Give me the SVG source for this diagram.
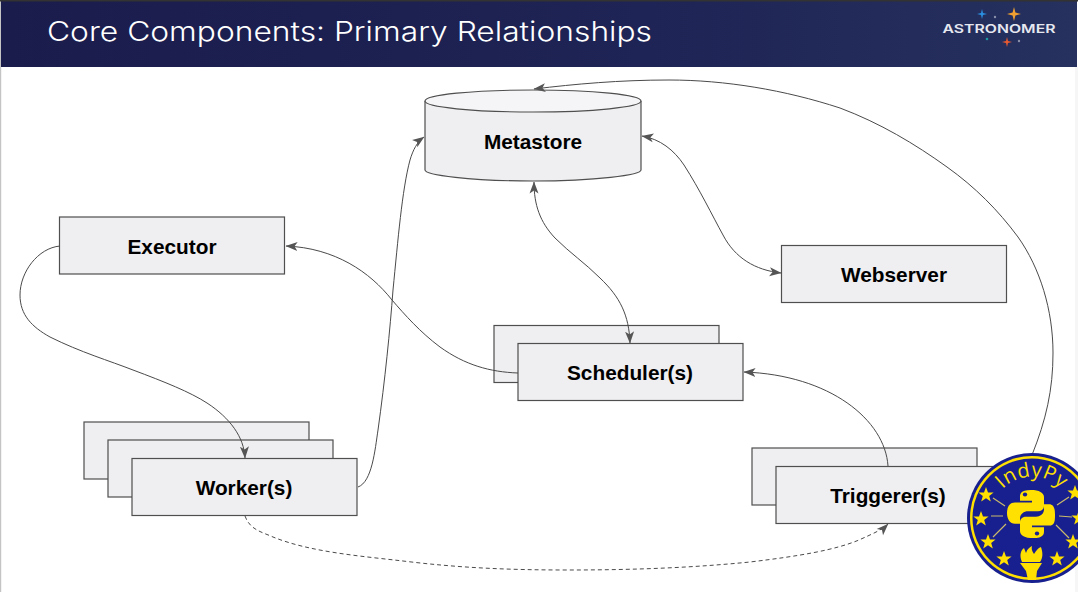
<svg xmlns="http://www.w3.org/2000/svg" width="1078" height="592" viewBox="0 0 1078 592">
<style>
.box{fill:#efeef0;stroke:#4f4f4f;stroke-width:1.2}
.lbl{font-family:"Liberation Sans",Arial,sans-serif;font-weight:700;font-size:20.800px;fill:#000;text-anchor:middle}
.c{fill:none;stroke:#4a4a4a;stroke-width:1}
.star{fill:#ffe000}
.spoke{stroke:#c9b96a;stroke-width:1.2}
</style>
<defs>
<linearGradient id="hdr" x1="0" x2="1" y1="0" y2="0"><stop offset="0" stop-color="#1a1c4c"/><stop offset=".6" stop-color="#1e2455"/><stop offset="1" stop-color="#26315f"/></linearGradient>
<marker id="a" viewBox="0 0 12 12" refX="11.5" refY="6" markerWidth="12" markerHeight="12" orient="auto-start-reverse" markerUnits="userSpaceOnUse"><path d="M0 1.500L12 6L0 10.500L3 6Z" fill="#555"/></marker>
<path id="st" class="star" d="M0-8L2-2.600L7.600-2.500L3.200,.9L4.800,6.500L0,3.300L-4.800,6.500L-3.200,.9L-7.600-2.500L-2-2.600Z"/>
<path id="spark" d="M0-5L1,-1L5,0L1,1L0,5L-1,1L-5,0L-1,-1Z"/>
</defs>
<rect width="1078" height="592" fill="#fff"/>
<rect width="1.200" height="592" fill="#c4c4c4"/>
<rect x="1075" y="67" width="3" height="525" fill="#f6f6f6"/>
<g id="header">
<rect x="1" y="1" width="1076" height="66" fill="url(#hdr)"/>
<rect width="1078" height="1.500" fill="#333"/>
<text x="47" y="41" font-family="Inter,'Open Sans',sans-serif" font-size="27.500" font-weight="300" fill="#fff" textLength="605" lengthAdjust="spacingAndGlyphs">Core Components: Primary Relationships</text>
<text x="999" y="33" font-family="Inter,'Liberation Sans',sans-serif" font-size="12" font-weight="600" fill="#e6e8f0" text-anchor="middle" textLength="113" lengthAdjust="spacingAndGlyphs">ASTRONOMER</text>
<use href="#spark" x="982" y="14" fill="#2a8fe0"/>
<use href="#spark" transform="translate(1014 14) scale(1.400)" fill="#f0a030"/>
<circle cx="995" cy="17" r="1.200" fill="#8a90a8"/>
<circle cx="987" cy="39" r="1.300" fill="#1a9aa0"/>
<use href="#spark" x="1007" y="42" fill="#e85a30"/>
<circle cx="1019" cy="41" r="1.200" fill="#8a90a8"/>
</g>
<g id="metastore">
<path class="box" d="M425 101V170C425 175 470 181 533 181C596 181 641 175 641 170V101"/>
<ellipse cx="533" cy="101" rx="108" ry="11" fill="#f5f4f6" stroke="#4f4f4f" stroke-width="1.200"/>
<text class="lbl" x="533" y="149">Metastore</text>
</g>
<g id="executor"><rect class="box" x="59.500" y="217" width="225" height="57"/><text class="lbl" x="172" y="253.500">Executor</text></g>
<g id="webserver"><rect class="box" x="781.500" y="245.500" width="225" height="57"/><text class="lbl" x="894" y="281.500">Webserver</text></g>
<g id="scheduler">
<rect class="box" x="494" y="325.500" width="225" height="57"/>
<rect class="box" x="518" y="343.500" width="225" height="57"/>
<text class="lbl" x="630" y="380">Scheduler(s)</text>
</g>
<g id="worker">
<rect class="box" x="84" y="422" width="225" height="57"/>
<rect class="box" x="108" y="440" width="225" height="57"/>
<rect class="box" x="132" y="458.500" width="225" height="57"/>
<text class="lbl" x="244" y="495">Worker(s)</text>
</g>
<g id="triggerer">
<rect class="box" x="752" y="448" width="225" height="57"/>
<rect class="box" x="776" y="466.500" width="225" height="57"/>
<text class="lbl" x="888" y="503">Triggerer(s)</text>
</g>
<g id="connectors">
<path class="c" marker-end="url(#a)" d="M1032 455C1046 420 1053 390 1053 353C1053 310 1040 268 1018 237C998 210 975 187 947 167C915 144 880 123 840 108C785 90 725 80 669 80C620 80 575 84 534 89"/>
<path class="c" marker-start="url(#a)" marker-end="url(#a)" d="M642 136C660 139 674 150 684 165C700 190 712 215 723 235C735 258 755 270 781 273"/>
<path class="c" marker-start="url(#a)" marker-end="url(#a)" d="M534 182C534 205 540 222 555 238C570 253 585 263 600 278C620 297 629 315 630 343"/>
<path class="c" marker-end="url(#a)" d="M518 373C490 372 465 365 440 347C420 332 405 315 392 300C370 272 335 248 286 246"/>
<path class="c" marker-end="url(#a)" d="M888 466C885 420 830 375 744 372"/>
<path class="c" marker-end="url(#a)" d="M60 246C38 248 20 272 20 295C20 315 32 327 50 337C80 352 110 361 133 370C165 382 190 392 207 403C230 418 244 437 245 458"/>
<path class="c" marker-end="url(#a)" d="M358 487C372 482 375 450 378 430C385 380 390 330 393 290C398 240 402 190 410 160C413 150 417 142 424 137"/>
<path class="c" stroke-dasharray="4 3" marker-end="url(#a)" d="M245 516C250 530 262 532 273 537C310 552 360 556 403 561C460 568 510 570 568 570C630 570 690 568 750 562C800 556 835 550 859 540C872 534 882 530 888 524"/>
</g>
<g id="indypy-badge">
<circle cx="1032" cy="518" r="65" fill="#18208f"/>
<circle cx="1032" cy="518" r="62" fill="#ffe000"/>
<circle cx="1032" cy="518" r="59.500" fill="#18208f"/>
<path id="arc" d="M993 505A41 41 0 0 1 1071 505" fill="none"/>
<text font-family="'Open Sans','Liberation Sans',sans-serif" font-size="20" fill="#ffe000" letter-spacing=".5"><textPath href="#arc" startOffset="50%" text-anchor="middle">IndyPy</textPath></text>
<g transform="translate(1031 514) scale(1 .89) translate(-1031 -518)">
<path class="star" d="M1031 491C1020 491 1020 496 1020 499V503H1032V505H1015C1009 505 1007 511 1007 517C1007 524 1010 529 1015 529H1020V523C1020 518 1024 515 1028 515H1038C1042 515 1044 512 1044 509V499C1044 494 1039 491 1031 491Z"/>
<path class="star" d="M1033 545C1044 545 1044 540 1044 537V533H1032V531H1049C1055 531 1055 525 1055 519C1055 512 1054 507 1049 507H1044V513C1044 518 1040 521 1036 521H1026C1022 521 1020 524 1020 527V537C1020 542 1025 545 1033 545Z"/>
<circle cx="1025" cy="496" r="2.200" fill="#18208f"/>
<circle cx="1037" cy="540" r="2.200" fill="#18208f"/>
</g>
<use href="#st" x="986" y="495"/><use href="#st" x="981" y="519"/><use href="#st" x="988" y="542"/><use href="#st" x="1004" y="559"/><use href="#st" x="1057" y="559"/><use href="#st" x="1075" y="493"/><use href="#st" x="1079" y="518"/><use href="#st" x="1073" y="542"/>
<path class="spoke" d="M993 498L1005 506M991 516H1003M993 537L1006 524M1057 505L1069 497M1059 516L1072 517M1056 525L1069 538" fill="none"/>
<path class="star" d="M1020 563H1042L1037 571L1036 580H1028L1026 571Z"/>
<path class="star" d="M1022 562C1019 555 1021 550 1024 548L1026 553C1027 549 1030 547 1032 546C1031 550 1033 552 1034 554C1036 551 1038 548 1041 547C1043 553 1043 558 1040 562Z"/>
</g>
</svg>
